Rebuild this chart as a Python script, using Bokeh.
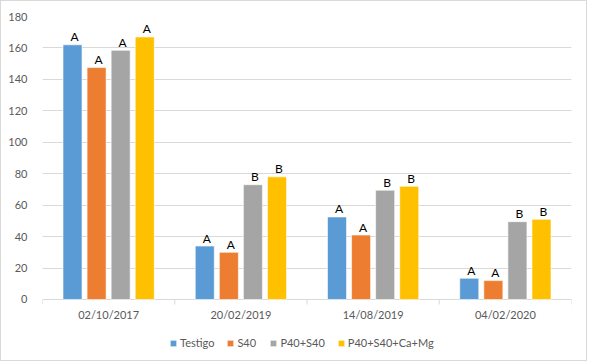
from bokeh.plotting import figure
from bokeh.models import ColumnDataSource, FixedTicker, Legend, LegendItem
from bokeh.core.properties import value
from bokeh.embed import file_html
from bokeh.resources import INLINE

fechas = ["02/10/2017", "20/02/2019", "14/08/2019", "04/02/2020"]
series = ["Testigo", "S40", "P40+S40", "P40+S40+Ca+Mg"]
testigo = [162, 34, 52.5, 13.5]
s40 = [147.5, 30, 41, 12]
p40_s40 = [158.5, 73, 69.5, 49.5]
p40_s40_ca_mg = [167, 78, 72, 51]
letras_testigo = ["A", "A", "A", "A"]
letras_s40 = ["A", "A", "A", "A"]
letras_p40_s40 = ["A", "B", "B", "B"]
letras_p40_s40_ca_mg = ["A", "B", "B", "B"]
y_ticks = [0, 20, 40, 60, 80, 100, 120, 140, 160, 180]

colors = ["#5b9bd5", "#ed7d31", "#a5a5a5", "#ffc000"]
offsets = [-0.273, -0.091, 0.091, 0.273]
bar_w = 0.144
tick_len = 3.2
FONT = "Lato"
GREY = "#595959"
LIGHT = "#d9d9d9"

p = figure(frame_width=529, frame_height=338, x_range=(0, len(fechas)), y_range=(-35, 180),
           output_backend="svg", toolbar_location=None, x_axis_location=None,
           min_border_left=41, min_border_right=15, min_border_top=15,
           min_border_bottom=6)
p.styles = {"border": "1px solid " + LIGHT}
p.outline_line_color = None
p.background_fill_color = "white"
p.border_fill_color = "white"

vals = [testigo, s40, p40_s40, p40_s40_ca_mg]
lets = [letras_testigo, letras_s40, letras_p40_s40, letras_p40_s40_ca_mg]
renderers = []
for name, v, l, c, off in zip(series, vals, lets, colors, offsets):
    src = ColumnDataSource(dict(x=[i + 0.5 + off for i in range(len(fechas))], top=v, lab=l))
    r = p.vbar(x="x", top="top", width=bar_w, source=src, fill_color=c,
               line_color="white", line_width=0.6)
    renderers.append((name, r))
    p.text(x="x", y="top", text="lab", source=src, text_align="center",
           text_baseline="alphabetic", y_offset=-8, x_offset=2,
           text_font=value(FONT), text_font_size="12px", text_color="black")

# category labels and boundary ticks (x axis drawn at y = 0)
cat_src = ColumnDataSource(dict(x=[i + 0.5 for i in range(len(fechas))],
                                y=[0] * len(fechas), lab=fechas))
p.text(x="x", y="y", text="lab", source=cat_src, text_align="center",
       text_baseline="top", y_offset=9, text_font=value(FONT),
       text_font_size="11px", text_color=GREY)
bounds = list(range(len(fechas) + 1))
p.segment(x0=bounds, y0=[0] * len(bounds), x1=bounds, y1=[-tick_len] * len(bounds),
          line_color=LIGHT, line_width=1)

ya = p.yaxis[0]
ya.ticker = FixedTicker(ticks=y_ticks)
ya.axis_line_color = None
ya.major_tick_line_color = None
ya.minor_tick_line_color = None
ya.major_label_text_font = FONT
ya.major_label_text_font_size = "11px"
ya.major_label_text_color = GREY
ya.major_label_standoff = 9

p.xgrid.grid_line_color = None
p.ygrid.grid_line_color = LIGHT
p.ygrid.ticker = FixedTicker(ticks=y_ticks)

legend = Legend(items=[LegendItem(label=n, renderers=[r]) for n, r in renderers],
                orientation="horizontal", location=(127, 5),
                label_text_font=FONT, label_text_font_size="11px",
                label_text_color=GREY, glyph_width=8, glyph_height=8,
                label_height=12, label_standoff=3, spacing=12, border_line_color=None,
                background_fill_alpha=0, padding=2, margin=0)
p.add_layout(legend, "center")

open("out.html", "w").write(file_html(p, INLINE))
